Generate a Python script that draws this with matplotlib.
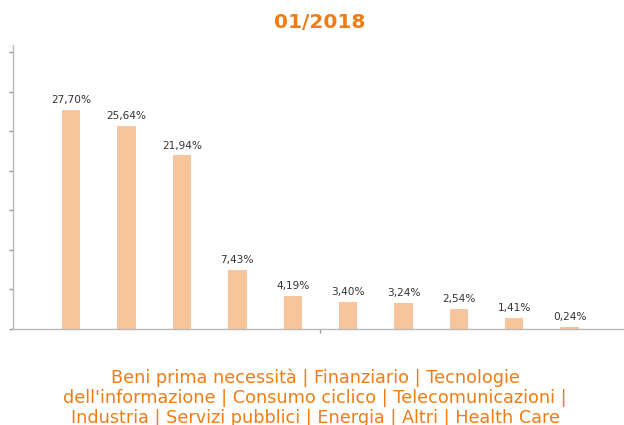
import numpy as np
import matplotlib.pyplot as plt

settori = ["Beni prima necessità", "Finanziario", "Tecnologie dell'informazione",
           "Consumo ciclico", "Telecomunicazioni", "Industria", "Servizi pubblici",
           "Energia", "Altri", "Health Care"]
pesi = [27.70, 25.64, 21.94, 7.43, 4.19, 3.40, 3.24, 2.54, 1.41, 0.24]
titolo = "01/2018"
didascalia = ("Beni prima necessità | Finanziario | Tecnologie\n"
              "dell'informazione | Consumo ciclico | Telecomunicazioni |\n"
              "Industria | Servizi pubblici | Energia | Altri | Health Care")

arancio = "#f07c14"
barra = "#f7c59b"
grigio = "#b8b8b8"

fig = plt.figure(figsize=(6.24, 4.25), dpi=100)
ax = fig.add_axes([0.021, 0.226, 0.985, 0.668])

x = np.arange(len(pesi))
ax.bar(x, pesi, width=0.33, color=barra, edgecolor="none")
for xi, v in zip(x, pesi):
    ax.annotate(f"{v:.2f}%".replace(".", ","), (xi, v), xytext=(0, 3.5),
                textcoords="offset points", ha="center", va="bottom",
                fontsize=7.6, color="#333333")

ax.set_xlim(-1.05, 10.05)
ax.set_ylim(0, 35.9)
ax.set_yticks(np.arange(0, 36, 5))
ax.set_yticklabels([])
ax.set_xticks([4.5])
ax.set_xticklabels([])
ax.tick_params(axis="both", length=3, width=1, color="#999999")
for s in ["top", "right"]:
    ax.spines[s].set_visible(False)
for s in ["left", "bottom"]:
    ax.spines[s].set_color(grigio)
    ax.spines[s].set_linewidth(1)

fig.text(0.513, 0.948, titolo, ha="center", va="center", fontsize=14.5,
         fontweight="bold", color=arancio)
fig.text(0.505, 0.064, didascalia, ha="center", va="center", fontsize=12.7,
         color=arancio, linespacing=1.16)

fig.savefig("out.png", dpi=100)
